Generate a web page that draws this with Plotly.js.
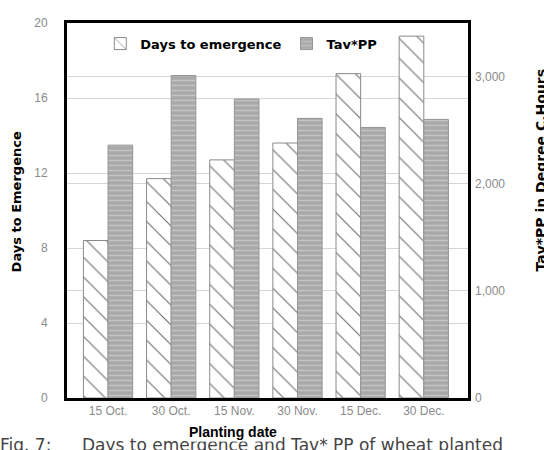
<!DOCTYPE html>
<html>
<head>
<meta charset="utf-8">
<script src="https://cdn.plot.ly/plotly-3.0.1.min.js"></script>
<style>html,body{margin:0;padding:0;background:#fff;}#chart{width:544px;height:450px;}</style>
</head>
<body>
<div id="chart"></div>
<script>
const plantingDates = ["15 Oct.", "30 Oct.", "15 Nov.", "30 Nov.", "15 Dec.", "30 Dec."];
const daysToEmergence = [8.4, 11.7, 12.7, 13.6, 17.3, 19.3];
const tavPP = [2360, 3010, 2790, 2610, 2525, 2600];
const leftTicks = [0, 4, 8, 12, 16, 20];
const rightTicks = [0, 1000, 2000, 3000];

const boldFont = "DejaVu Sans, sans-serif";
const tickFont = {family: "Liberation Sans, Arial, sans-serif", size: 12, color: "#8a8a8a"};

const traces = [
  {
    type: "bar", name: "Days to emergence",
    x: plantingDates, y: daysToEmergence, yaxis: "y",
    width: 0.39, offset: -0.39,
    marker: {
      color: "#ffffff",
      line: {color: "#8a8a8a", width: 1},
      pattern: {shape: "\\", fgcolor: "#707070", bgcolor: "#ffffff", size: 14, solidity: 0.08, fillmode: "replace"}
    },
    hoverinfo: "skip"
  },
  {
    type: "bar", name: "Tav*PP",
    x: plantingDates, y: tavPP, yaxis: "y2",
    width: 0.39, offset: 0,
    marker: {
      color: "#adadad",
      line: {color: "#959595", width: 1},
      pattern: {shape: "-", fgcolor: "#c4c4c4", bgcolor: "#a9a9a9", size: 5, solidity: 0.3, fillmode: "replace"}
    },
    hoverinfo: "skip"
  }
];

const layout = {
  width: 544, height: 450,
  margin: {l: 67, r: 76, t: 23, b: 52},
  paper_bgcolor: "#ffffff", plot_bgcolor: "#ffffff",
  barmode: "overlay",
  showlegend: true,
  legend: {
    orientation: "h", x: 0.083, y: 0.985, xanchor: "left", yanchor: "top",
    bgcolor: "rgba(0,0,0,0)", itemwidth: 30,
    font: {family: boldFont, size: 13, color: "#000", weight: "bold"},
    traceorder: "normal", itemclick: false
  },
  xaxis: {
    type: "category", range: [-0.65, 5.7],
    showline: true, linecolor: "#000", linewidth: 3, mirror: true,
    showgrid: false, ticks: "", tickfont: tickFont, fixedrange: true
  },
  yaxis: {
    range: [0, 20], tickvals: leftTicks,
    showline: true, linecolor: "#000", linewidth: 3, mirror: true,
    showgrid: true, gridcolor: "#d6d6d6", gridwidth: 1, zeroline: false,
    ticks: "", ticklabelstandoff: 14, tickfont: tickFont, fixedrange: true
  },
  yaxis2: {
    overlaying: "y", side: "right", range: [0, 3500], tickvals: rightTicks,
    tickformat: ",d", showline: false,
    showgrid: true, gridcolor: "#d6d6d6", gridwidth: 1, zeroline: false,
    ticks: "", ticklabelstandoff: 6, tickfont: tickFont, fixedrange: true
  },
  annotations: [
    {text: "Days to Emergence", xref: "paper", yref: "paper", x: -0.125, y: 0.524,
     textangle: -90, showarrow: false, xanchor: "center", yanchor: "middle",
     font: {family: boldFont, size: 13, color: "#000", weight: "bold"}},
    {text: "Tav*PP in Degree C.Hours", xref: "paper", yref: "paper", x: 1.182, y: 0.609,
     textangle: -90, showarrow: false, xanchor: "center", yanchor: "middle",
     font: {family: boldFont, size: 14, color: "#000", weight: "bold"}},
    {text: "Fig. 7:", xref: "paper", yref: "paper", x: -0.172, y: -0.093,
     showarrow: false, xanchor: "left", yanchor: "top",
     font: {family: "DejaVu Sans, sans-serif", size: 17, color: "#444"}},
    {text: "Days to emergence and Tav* PP of wheat planted", xref: "paper", yref: "paper", x: 0.032, y: -0.093,
     showarrow: false, xanchor: "left", yanchor: "top",
     font: {family: "DejaVu Sans, sans-serif", size: 17, color: "#444"}},
    {text: "Planting date", xref: "paper", yref: "paper", x: 0.414, y: -0.09,
     showarrow: false, xanchor: "center", yanchor: "middle", bgcolor: "#ffffff",
     font: {family: "Liberation Sans, Arial, sans-serif", size: 14, color: "#000", weight: "bold"}}
  ]
};

Plotly.newPlot("chart", traces, layout, {staticPlot: true, displayModeBar: false});
</script>
</body>
</html>
